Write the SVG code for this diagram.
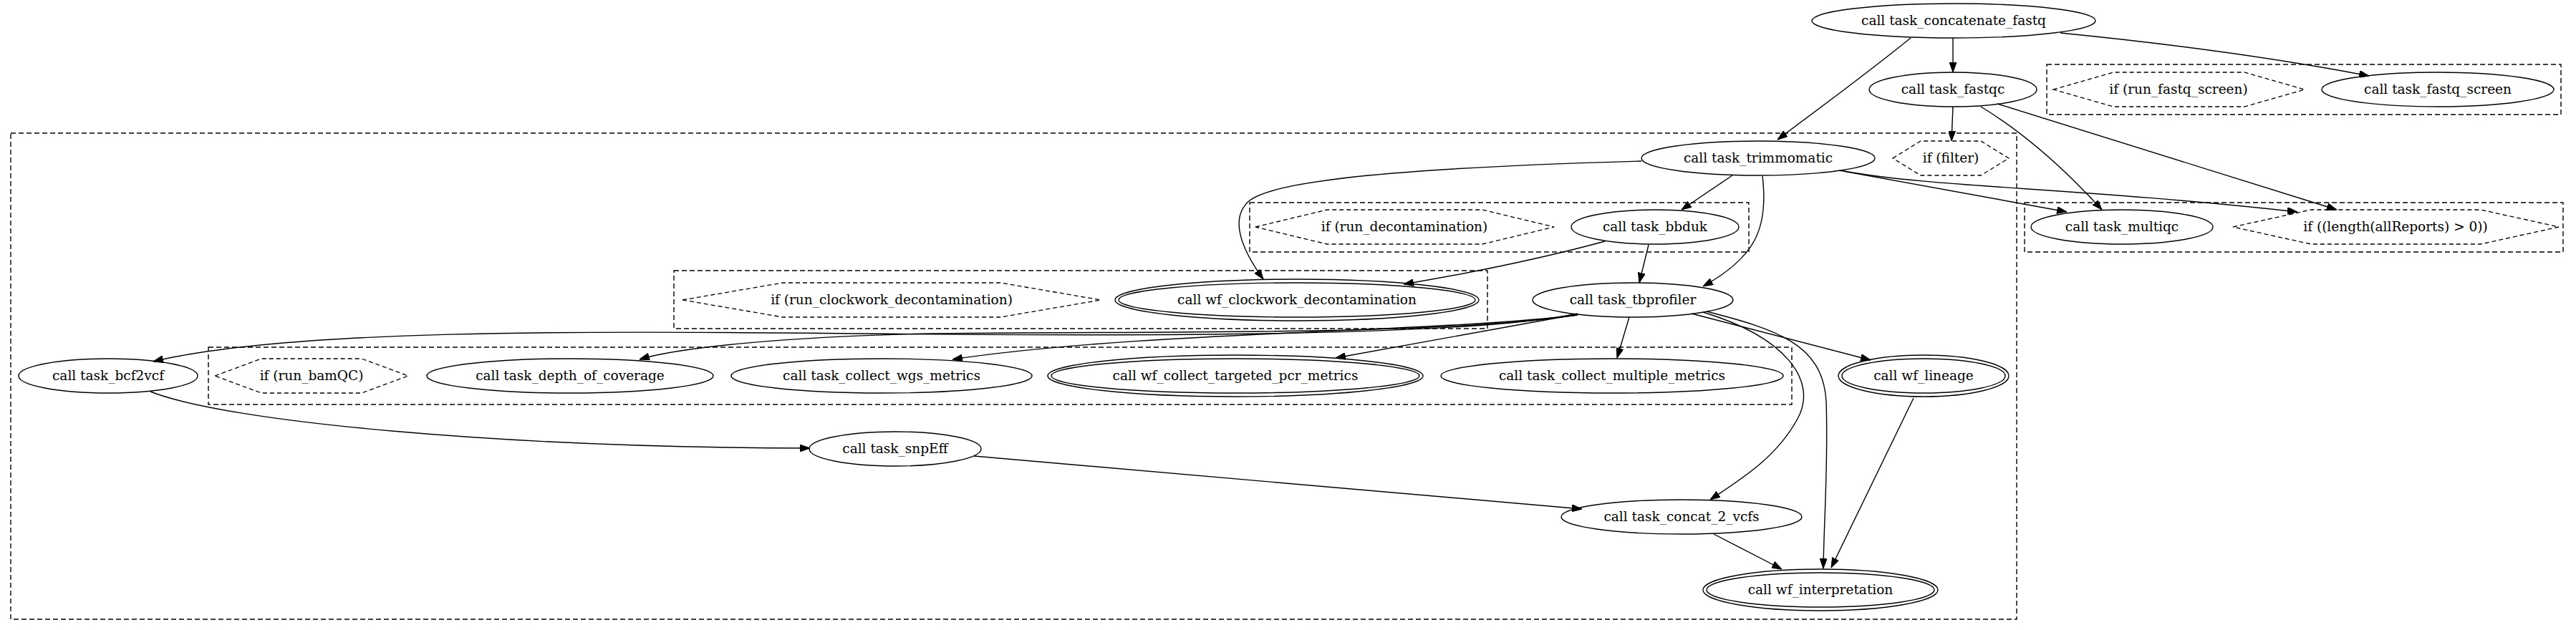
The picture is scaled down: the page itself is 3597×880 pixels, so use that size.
<svg xmlns="http://www.w3.org/2000/svg" width="3597" height="880" viewBox="0 0 3597 880">
<style>
.n{fill:none;stroke:#000;stroke-width:1.4}
.h{fill:none;stroke:#000;stroke-width:1.3;stroke-dasharray:6,4}
.c{fill:none;stroke:#000;stroke-width:1.4;stroke-dasharray:7,4}
.e{fill:none;stroke:#000;stroke-width:1.4;marker-end:url(#a)}
text{font-family:"DejaVu Serif",serif;font-size:18.5px;text-anchor:middle;fill:#000}
</style>
<defs>
<marker id="a" markerUnits="userSpaceOnUse" markerWidth="14" markerHeight="10" refX="14" refY="5" orient="auto">
<path d="M0,0 L14,5 L0,10 z" fill="#000" stroke="#000" stroke-width="1"/>
</marker>
</defs>
<rect width="3597" height="880" fill="#fff"/>
<g id="clusters">
<rect class="c" x="15" y="186" width="2801" height="679"/>
<rect class="c" x="2858" y="90" width="718" height="70"/>
<rect class="c" x="2827" y="283" width="752" height="69"/>
<rect class="c" x="1745" y="283" width="697" height="69"/>
<rect class="c" x="941" y="378" width="1136" height="81"/>
<rect class="c" x="291" y="485" width="2211" height="80"/>
</g>
<g id="edges">
<path class="e" d="M2727,53 L2727,101"/>
<path class="e" d="M2668,53 Q2610,100 2482,195"/>
<path class="e" d="M2877,46 Q3120,70 3308,106"/>
<path class="e" d="M2727,149 L2725,197"/>
<path class="e" d="M2766,149 Q2850,200 2935,293"/>
<path class="e" d="M2789,145 L3263,293"/>
<path class="e" d="M2568,238 L2886,296"/>
<path class="e" d="M2575,239 C2700,262 2900,262 3208,296"/>
<path class="e" d="M2292,225 C2050,232 1790,245 1745,280 C1715,305 1735,350 1764,390"/>
<path class="e" d="M2419,245 L2348,293"/>
<path class="e" d="M2461,246 C2470,320 2450,360 2378,400"/>
<path class="e" d="M2241,337 Q2120,370 1960,397"/>
<path class="e" d="M2302,342 L2289,395"/>
<path class="e" d="M2275,443 L2258,500"/>
<path class="e" d="M2203,438 C2050,470 1600,470 1200,466 C800,462 400,460 214,505"/>
<path class="e" d="M2203,440 C2000,470 1600,462 1300,466 C1100,470 950,485 893,502"/>
<path class="e" d="M2203,440 C2000,465 1600,462 1330,502"/>
<path class="e" d="M2202,439 L1865,500"/>
<path class="e" d="M2362,438 L2612,503"/>
<path class="e" d="M2378,436 C2490,470 2540,530 2510,585 C2480,640 2430,670 2388,698"/>
<path class="e" d="M2383,435 C2480,460 2545,480 2550,560 C2553,650 2547,720 2546,794"/>
<path class="e" d="M210,547 C320,590 700,625 1131,626"/>
<path class="e" d="M1360,637 L2209,711"/>
<path class="e" d="M2393,746 L2488,795"/>
<path class="e" d="M2672,556 L2557,793"/>
</g>
<g id="n_concatenate"><ellipse class="n" cx="2728" cy="29" rx="198" ry="24"/><text x="2728" y="35">call task_concatenate_fastq</text></g>
<g id="n_fastqc"><ellipse class="n" cx="2727" cy="125" rx="117" ry="24"/><text x="2727" y="131">call task_fastqc</text></g>
<g id="n_if_fastq_screen"><polygon class="h" points="2867,125 2951,101 3134,101 3218,125 3134,149 2951,149"/><text x="3042" y="131">if (run_fastq_screen)</text></g>
<g id="n_fastq_screen"><ellipse class="n" cx="3404" cy="125" rx="162" ry="24"/><text x="3404" y="131">call task_fastq_screen</text></g>
<g id="n_trimmomatic"><ellipse class="n" cx="2455" cy="221" rx="163" ry="24"/><text x="2455" y="227">call task_trimmomatic</text></g>
<g id="n_if_filter"><polygon class="h" points="2643,221 2682,197 2766,197 2805,221 2766,245 2682,245"/><text x="2724" y="227">if (filter)</text></g>
<g id="n_if_decontamination"><polygon class="h" points="1753,317 1853,293 2070,293 2170,317 2070,341 1853,341"/><text x="1961" y="323">if (run_decontamination)</text></g>
<g id="n_bbduk"><ellipse class="n" cx="2311" cy="317" rx="117" ry="24"/><text x="2311" y="323">call task_bbduk</text></g>
<g id="n_multiqc"><ellipse class="n" cx="2963" cy="317" rx="127" ry="24"/><text x="2963" y="323">call task_multiqc</text></g>
<g id="n_if_allreports"><polygon class="h" points="3118,317 3227,293 3464,293 3573,317 3464,341 3227,341"/><text x="3345" y="323">if ((length(allReports) &gt; 0))</text></g>
<g id="n_if_clockwork"><polygon class="h" points="953,419 1093,395 1397,395 1537,419 1397,443 1093,443"/><text x="1245" y="425">if (run_clockwork_decontamination)</text></g>
<g id="n_wf_clockwork"><ellipse class="n" cx="1811" cy="419" rx="254" ry="29"/><ellipse class="n" cx="1811" cy="419" rx="249" ry="24"/><text x="1811" y="425">call wf_clockwork_decontamination</text></g>
<g id="n_tbprofiler"><ellipse class="n" cx="2280" cy="419" rx="140" ry="24"/><text x="2280" y="425">call task_tbprofiler</text></g>
<g id="n_bcf2vcf"><ellipse class="n" cx="151" cy="525" rx="125" ry="24"/><text x="151" y="531">call task_bcf2vcf</text></g>
<g id="n_if_bamqc"><polygon class="h" points="300,525 365,501 505,501 570,525 505,549 365,549"/><text x="435" y="531">if (run_bamQC)</text></g>
<g id="n_depth"><ellipse class="n" cx="796" cy="525" rx="200" ry="24"/><text x="796" y="531">call task_depth_of_coverage</text></g>
<g id="n_wgs"><ellipse class="n" cx="1231" cy="525" rx="210" ry="24"/><text x="1231" y="531">call task_collect_wgs_metrics</text></g>
<g id="n_targeted"><ellipse class="n" cx="1725" cy="525" rx="262" ry="29"/><ellipse class="n" cx="1725" cy="525" rx="257" ry="24"/><text x="1725" y="531">call wf_collect_targeted_pcr_metrics</text></g>
<g id="n_multiple"><ellipse class="n" cx="2251" cy="525" rx="239" ry="24"/><text x="2251" y="531">call task_collect_multiple_metrics</text></g>
<g id="n_lineage"><ellipse class="n" cx="2686" cy="525" rx="119" ry="29"/><ellipse class="n" cx="2686" cy="525" rx="114" ry="24"/><text x="2686" y="531">call wf_lineage</text></g>
<g id="n_snpeff"><ellipse class="n" cx="1250" cy="627" rx="120" ry="24"/><text x="1250" y="633">call task_snpEff</text></g>
<g id="n_concat"><ellipse class="n" cx="2348" cy="722" rx="168" ry="24"/><text x="2348" y="728">call task_concat_2_vcfs</text></g>
<g id="n_interpretation"><ellipse class="n" cx="2542" cy="824" rx="164" ry="29"/><ellipse class="n" cx="2542" cy="824" rx="159" ry="24"/><text x="2542" y="830">call wf_interpretation</text></g>
</svg>
